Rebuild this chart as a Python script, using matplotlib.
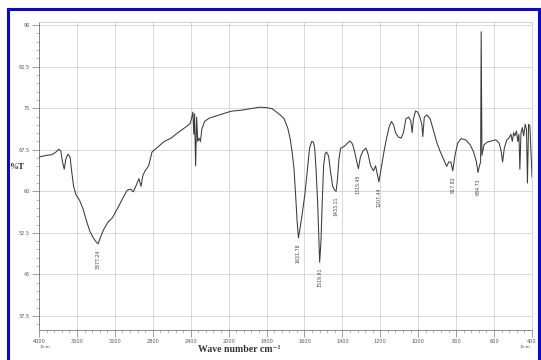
import numpy as np
import matplotlib
matplotlib.use("Agg")
import matplotlib.pyplot as plt
from matplotlib.lines import Line2D
from matplotlib.ticker import FixedLocator, NullFormatter

# IR transmittance spectrum (wavenumber in cm^-1, transmittance in %T)
wavenumber = [
    4000, 3974, 3920, 3865, 3821, 3792, 3770, 3752, 3734, 3716, 3694, 3672,
    3654, 3635, 3610, 3573, 3537, 3500, 3464, 3428, 3398, 3377.24, 3347, 3318,
    3274, 3227, 3172, 3118, 3070, 3034, 3005, 2972, 2946, 2924, 2906, 2881,
    2844, 2808, 2753, 2680, 2607, 2534, 2461, 2407, 2388, 2377, 2367, 2359,
    2348, 2337, 2326, 2312, 2297, 2283, 2254, 2206, 2133, 2060, 2005,
    1980, 1943, 1907, 1871, 1834, 1798, 1770, 1747, 1725, 1707, 1688, 1676,
    1665, 1655, 1646, 1639, 1631.78, 1623, 1612, 1597, 1584, 1573, 1562, 1553,
    1546, 1539, 1531, 1524, 1519.91, 1513, 1506, 1499, 1491, 1484, 1473, 1462,
    1451, 1440, 1433.11, 1426, 1418, 1409, 1391, 1373, 1360, 1346, 1333, 1324,
    1315.45, 1305, 1291, 1276, 1265, 1251, 1236, 1225, 1214, 1207.44, 1196,
    1181, 1167, 1152, 1141, 1130, 1120, 1105, 1090, 1078, 1065, 1050, 1039,
    1032, 1025, 1014, 1003, 992, 981, 976, 968, 954, 937, 919, 901, 883, 864,
    850, 839, 828, 817.82, 806, 792, 774, 750, 726, 708, 693, 684.73, 677, 671,
    668, 664, 653, 635, 613, 591, 573, 562, 555, 546, 533, 522, 511, 504, 497,
    490, 482, 475, 469, 464, 458, 451, 444, 436, 429, 424, 418, 411, 400,
]
transmittance = [
    66.2, 66.3, 66.5, 66.6, 67.1, 67.6, 67.3, 65.3, 64.0, 65.9, 66.7, 66.2,
    63.4, 60.9, 59.4, 58.4, 56.9, 54.7, 52.8, 51.6, 50.9, 50.5, 51.9, 53.1,
    54.4, 55.2, 56.9, 58.7, 60.2, 60.4, 59.9, 61.2, 62.3, 60.9, 62.8, 63.7,
    64.6, 67.1, 67.9, 69.0, 69.6, 70.6, 71.5, 72.2, 73.4, 74.3, 70.3, 74.0,
    64.6, 73.4, 69.0, 69.6, 69.0, 71.2, 72.6, 73.2, 73.6, 74.0, 74.3,
    74.5, 74.6, 74.8, 75.0, 75.2, 75.1, 74.9, 74.3, 73.7, 73.1, 71.4, 69.6,
    67.1, 64.0, 59.0, 54.7, 51.6, 53.4, 55.9, 59.7, 64.0, 67.8, 69.0, 68.9,
    67.8, 64.0, 58.4, 51.6, 47.2, 50.9, 58.4, 64.6, 66.8, 67.1, 66.4, 63.4,
    60.9, 60.2, 60.0, 62.2, 65.9, 67.8, 68.1, 68.7, 69.1, 68.5, 66.8, 65.3,
    64.1, 66.2, 67.3, 67.8, 66.8, 64.6, 63.7, 64.6, 62.8, 61.7, 64.0,
    67.1, 69.6, 71.8, 72.6, 72.0, 70.6, 69.8, 69.6, 70.6, 73.1, 73.4, 72.7,
    70.6, 73.1, 74.5, 74.3, 73.5, 72.1, 69.9, 73.4, 73.8, 73.1, 70.9, 68.7, 67.1, 65.6,
    64.5, 65.3, 65.3, 63.7, 66.5, 68.7, 69.5, 69.3, 68.4, 67.1, 65.3, 63.4, 64.6, 65.3,
    88.8, 66.5, 68.4, 68.9, 69.1, 69.3, 68.7, 67.1, 65.3, 67.8, 69.3, 69.6, 70.3, 69.0, 70.6,
    70.0, 70.9, 69.0, 70.3, 64.0, 70.6, 71.5, 70.0, 72.1, 71.2, 61.5, 72.1, 71.8, 62.6,
]

# Labelled absorption bands
peak_wavenumber = [3377.24, 1631.78, 1519.91, 1433.11, 1315.45, 1207.44, 817.82, 684.73]
peak_transmittance = [50.5, 51.6, 47.2, 60.0, 64.1, 61.7, 63.7, 63.4]

x_ticks = [4000, 3600, 3200, 2800, 2400, 2000, 1800, 1600, 1400, 1200, 1000, 800, 600, 400]
y_ticks = [37.5, 45, 52.5, 60, 67.5, 75, 82.5, 90]
y_tick_labels = ["37.5", "45", "52.5", "60", "67.5", "75", "82.5", "90"]


# Split wavenumber scale: 400 cm^-1 per division above 2000, 200 below
def forward(w):
    w = np.asarray(w, dtype=float)
    return np.where(w >= 2000, (w - 2000) / 400.0, (w - 2000) / 200.0)


def inverse(p):
    p = np.asarray(p, dtype=float)
    return np.where(p >= 0, 2000 + 400.0 * p, 2000 + 200.0 * p)


W, H = 541, 360
fig = plt.figure(figsize=(W / 100, H / 100), dpi=100, facecolor="white")
ax = fig.add_axes([39 / W, 1 - 329.5 / H, (532 - 39) / W, (329.5 - 22.4) / H])

ax.set_xscale("function", functions=(forward, inverse))
ax.set_xlim(4000, 400)
ax.set_ylim(35.05, 90.5)

ax.plot(wavenumber, transmittance, color="#3a3a3a", lw=0.75, zorder=3)

for wn, t in zip(peak_wavenumber, peak_transmittance):
    ax.annotate(f"{wn:.2f}", xy=(wn, t), xytext=(0, -4), textcoords="offset points",
                rotation=90, ha="center", va="top", fontsize=3.4, color="#444444")

# ticks
ax.xaxis.set_major_locator(FixedLocator(x_ticks))
ax.set_xticklabels([str(v) for v in x_ticks])
minor_x = list(np.arange(4000, 2000, -80)) + list(np.arange(2000, 399, -40))
ax.xaxis.set_minor_locator(FixedLocator(minor_x))
ax.xaxis.set_minor_formatter(NullFormatter())
ax.set_yticks(y_ticks)
ax.set_yticklabels(y_tick_labels)
ax.yaxis.set_minor_locator(FixedLocator(list(np.arange(36.0, 90.5, 1.5))))

ax.tick_params(axis="both", which="major", length=5, width=0.5, color="#777777",
               labelsize=3.6, labelcolor="#555555", pad=1.5)
ax.tick_params(axis="both", which="minor", length=2, width=0.4, color="#888888")

ax.grid(True, which="major", color="#d2d2d2", lw=0.6)
ax.set_axisbelow(True)

for side in ("top", "right"):
    ax.spines[side].set_color("#cccccc")
    ax.spines[side].set_linewidth(0.6)
for side in ("left", "bottom"):
    ax.spines[side].set_color("#777777")
    ax.spines[side].set_linewidth(0.6)

# units under the end labels
fig.text(45 / W, 1 - 347.5 / H, "1/cm", fontsize=3.2, color="#555555", ha="center", va="center")
fig.text(525 / W, 1 - 347.5 / H, "1/cm", fontsize=3.2, color="#555555", ha="center", va="center")

serif = ["Liberation Serif", "DejaVu Serif"]
fig.text(17 / W, 1 - 167 / H, "%T", family=serif, weight="bold", fontsize=6.5,
         color="#333333", ha="center", va="center")
fig.text(239 / W, 1 - 349 / H, "Wave number cm\u207b\u00b9", family=serif, weight="bold",
         fontsize=7, color="#333333", ha="center", va="center")

# blue frame
blue = "#0a0ac8"
left_x, right_x, top_y = 7.5 / W, 539 / W, 1 - 8.5 / H
fig.add_artist(Line2D([left_x, left_x], [0, top_y], color=blue, lw=2.2,
                      transform=fig.transFigure, solid_capstyle="projecting"))
fig.add_artist(Line2D([right_x, right_x], [0, top_y], color=blue, lw=2.2,
                      transform=fig.transFigure, solid_capstyle="projecting"))
fig.add_artist(Line2D([left_x, right_x], [top_y, top_y], color=blue, lw=2.2,
                      transform=fig.transFigure, solid_capstyle="projecting"))

fig.savefig("out.png", dpi=100, facecolor="white")
